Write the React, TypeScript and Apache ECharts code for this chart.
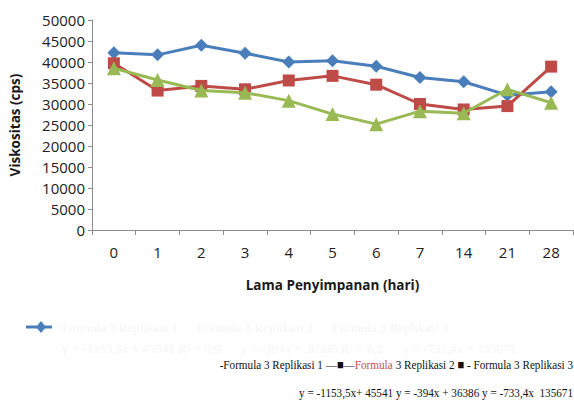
import React, { useEffect, useRef } from "react";
import * as echarts from "echarts";

const categories = ["0", "1", "2", "3", "4", "5", "6", "7", "14", "21", "28"];
const replikasi1 = [42200, 41700, 44000, 42100, 40000, 40300, 39000, 36300, 35300, 32100, 32900];
const replikasi2 = [39700, 33200, 34300, 33500, 35600, 36700, 34600, 30000, 28700, 29500, 38900];
const replikasi3 = [38500, 35700, 33200, 32700, 30800, 27600, 25200, 28300, 27800, 33500, 30300];
const yTicks = { min: 0, max: 50000, interval: 5000 };

export default function App() {
  const ref = useRef<HTMLDivElement>(null);
  useEffect(() => {
    const chart = echarts.init(ref.current!, null, { renderer: "svg" });
    const axisColor = "#8c8c8c";
    chart.setOption({
      animation: false,
      backgroundColor: "#ffffff",
      grid: { left: 89, right: 1, top: 20, bottom: 171, containLabel: false },
      xAxis: {
        type: "category",
        data: categories,
        boundaryGap: true,
        name: "Lama Penyimpanan (hari)",
        nameLocation: "middle",
        nameGap: 48,
        nameTextStyle: { fontFamily: "Open Sans", fontWeight: "bold", fontSize: 13.5, color: "#1a1a1a" },
        axisLine: { lineStyle: { color: axisColor, width: 1 } },
        axisTick: { show: true, alignWithLabel: false, length: 5, lineStyle: { color: axisColor } },
        axisLabel: { fontFamily: "Open Sans", fontSize: 15, color: "#222", margin: 14 },
        splitLine: { show: false },
      },
      yAxis: {
        type: "value",
        min: yTicks.min,
        max: yTicks.max,
        interval: yTicks.interval,
        name: "Viskositas (cps)",
        nameLocation: "middle",
        nameGap: 70,
        nameTextStyle: { fontFamily: "Open Sans", fontWeight: "bold", fontSize: 13.5, color: "#1a1a1a" },
        axisLine: { show: true, lineStyle: { color: axisColor, width: 1 } },
        axisTick: { show: true, length: 4, lineStyle: { color: axisColor } },
        axisLabel: {
          fontFamily: "Open Sans",
          fontSize: 15,
          color: "#222",
          margin: 7,
          formatter: (v: number) => String(v),
        },
        splitLine: { show: false },
      },
      series: [
        {
          name: "Formula 3 Replikasi 1",
          type: "line",
          data: replikasi1,
          symbol: "diamond",
          symbolSize: 13,
          lineStyle: { color: "#4a7ebb", width: 3 },
          itemStyle: { color: "#4a7ebb" },
          z: 3,
        },
        {
          name: "Formula 3 Replikasi 2",
          type: "line",
          data: replikasi2,
          symbol: "rect",
          symbolSize: 12,
          lineStyle: { color: "#be4b48", width: 3 },
          itemStyle: { color: "#be4b48" },
          z: 4,
        },
        {
          name: "Formula 3 Replikasi 3",
          type: "line",
          data: replikasi3,
          symbol: "triangle",
          symbolSize: 14,
          lineStyle: { color: "#98b954", width: 3 },
          itemStyle: { color: "#98b954" },
          z: 5,
        },
      ],
      graphic: [
        { type: "line", shape: { x1: 26, y1: 327, x2: 52, y2: 327 }, style: { stroke: "#4a7ebb", lineWidth: 3 } },
        {
          type: "polygon",
          shape: { points: [[41, 321], [46, 327], [41, 333], [36, 327]] },
          style: { fill: "#4a7ebb" },
        },
        {
          type: "text",
          x: 62,
          y: 327,
          style: {
            text: "Formula 3 Replikasi 1      Formula 3 Replikasi 2      Formula 3 Replikasi 3",
            fill: "#f5f5f5",
            font: "13px 'Liberation Serif'",
            verticalAlign: "middle",
          },
        },
        {
          type: "text",
          x: 62,
          y: 348,
          style: {
            text: "y = -1153,5x + 45541 R² = 0,9      y = -394x + 36386 R² = 0,2      y = -733,4x + 135671",
            fill: "#f5f5f5",
            font: "13px 'Liberation Serif'",
            verticalAlign: "middle",
          },
        },
        {
          type: "text",
          x: 573,
          y: 365,
          scaleX: 0.86,
          style: {
            text: "-Formula 3 Replikasi 1 —■—{r|Formula} 3 Replikasi 2 ■ - Formula 3 Replikasi 3",
            fill: "#111",
            font: "13px 'Liberation Serif'",
            align: "right",
            verticalAlign: "middle",
            rich: { r: { fill: "#c0504d", font: "13px 'Liberation Serif'" } },
          },
        },
        {
          type: "text",
          x: 573,
          y: 393,
          scaleX: 0.86,
          style: {
            text: "y = -1153,5x+ 45541 y = -394x + 36386 y = -733,4x  135671",
            fill: "#111",
            font: "13px 'Liberation Serif'",
            align: "right",
            verticalAlign: "middle",
          },
        },
      ],
    });
    return () => chart.dispose();
  }, []);
  return <div ref={ref} style={{ width: 574, height: 401, position: "absolute", left: 0, top: 0 }} />;
}
